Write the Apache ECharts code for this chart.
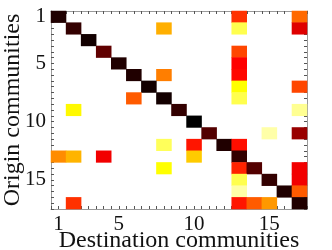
<!DOCTYPE html>
<html><head><meta charset="utf-8">
<script src="https://cdn.jsdelivr.net/npm/echarts@6/dist/echarts.min.js"></script>
<style>html,body{margin:0;padding:0;background:#fff}#c{width:332px;height:250px}</style>
</head><body><div id="c"></div>
<script>
var destinations = ['1','2','3','4','5','6','7','8','9','10','11','12','13','14','15','16','17'];
var origins = ['1','2','3','4','5','6','7','8','9','10','11','12','13','14','15','16','17'];
var tickLabels = ['1','5','10','15'];
// intensity per origin row (0 = no flow), columns are destinations 1..17
var row1  = [0.95,0,0,0,0,0,0,0,0,0,0,0,0.53,0,0,0,0.45];
var row2  = [0,0.92,0,0,0,0,0,0.34,0,0,0,0,0.13,0,0,0,0.65];
var row3  = [0,0,0.97,0,0,0,0,0,0,0,0,0,0,0,0,0,0];
var row4  = [0,0,0,0.85,0,0,0,0,0,0,0,0,0.50,0,0,0,0];
var row5  = [0,0,0,0,0.95,0,0,0,0,0,0,0,0.60,0,0,0,0];
var row6  = [0,0,0,0,0,0.95,0,0.42,0,0,0,0,0.59,0,0,0,0];
var row7  = [0,0,0,0,0,0,0.97,0,0,0,0,0,0.20,0,0,0,0.50];
var row8  = [0,0,0,0,0,0.47,0,0.97,0,0,0,0,0.13,0,0,0,0];
var row9  = [0,0.21,0,0,0,0,0,0,0.92,0,0,0,0,0,0,0,0.07];
var row10 = [0,0,0,0,0,0,0,0,0,1.0,0,0,0,0,0,0,0];
var row11 = [0,0,0,0,0,0,0,0,0,0,0.87,0,0,0,0.05,0,0.76];
var row12 = [0,0,0,0,0,0,0,0.12,0,0.57,0,0.95,0.58,0,0,0,0];
var row13 = [0.40,0.33,0,0.62,0,0,0,0,0,0.29,0,0,0.92,0,0,0,0];
var row14 = [0,0,0,0,0,0,0,0.20,0,0,0,0,0.55,0.87,0,0,0.62];
var row15 = [0,0,0,0,0,0,0,0,0,0,0,0,0.13,0,0.92,0,0.62];
var row16 = [0,0,0,0,0,0,0,0,0,0,0,0,0.05,0,0,0.95,0.47];
var row17 = [0,0.53,0,0,0,0,0,0,0,0,0,0,0.57,0.47,0.38,0,0.95];
var rows = [row1,row2,row3,row4,row5,row6,row7,row8,row9,row10,row11,row12,row13,row14,row15,row16,row17];

var cells = [];
rows.forEach(function(r, i){ r.forEach(function(v, j){ if (v > 0) cells.push([j, i, v]); }); });

var font = 'Liberation Serif';
var gray = '#9a9a9a';
function tickAxis(pos, isY) {
  var a = {type:'value', position:pos, min:0.5, max:17.5, interval:0.5, gridIndex:0,
    axisLine:{show:true, lineStyle:{color:gray, width:1}},
    axisTick:{show:true, inside:true, length:3, lineStyle:{color:'#555'}},
    axisLabel:{show:false}, splitLine:{show:false}, silent:true};
  if (isY) a.inverse = true;
  return a;
}
var chart = echarts.init(document.getElementById('c'), null, {renderer:'canvas'});
chart.setOption({
  animation:false,
  grid:{left:51, top:11, width:256, height:198, containLabel:false, outerBoundsMode:'none'},
  xAxis:[
    {type:'category', data:destinations, position:'bottom',
     axisLine:{show:false}, axisTick:{show:false}, splitLine:{show:false},
     axisLabel:{interval:0, margin:5, fontFamily:font, fontSize:21, color:'#111',
       formatter:function(v){ return tickLabels.indexOf(v) >= 0 ? v : ''; }},
     name:'Destination communities', nameLocation:'middle', nameGap:20, nameMoveOverlap:false,
     nameTextStyle:{fontFamily:font, fontSize:24, color:'#111'}},
    tickAxis('bottom', false), tickAxis('top', false)
  ],
  yAxis:[
    {type:'category', data:origins, inverse:true, position:'left',
     axisLine:{show:false}, axisTick:{show:false}, splitLine:{show:false},
     axisLabel:{interval:0, margin:5, fontFamily:font, fontSize:21, color:'#111',
       formatter:function(v){ return tickLabels.indexOf(v) >= 0 ? v : ''; }},
     name:'Origin communities', nameLocation:'middle', nameGap:26, nameRotate:90, nameMoveOverlap:false,
     nameTextStyle:{fontFamily:font, fontSize:24, color:'#111'}},
    tickAxis('left', true), tickAxis('right', true)
  ],
  visualMap:{show:false, min:0, max:1, dimension:2, seriesIndex:0,
    inRange:{color:['#ffffe0','#ffff00','#ff8c00','#ff0000','#800000','#000000']}},
  series:[{type:'heatmap', xAxisIndex:0, yAxisIndex:0, data:cells,
    itemStyle:{borderWidth:0}}]
});
</script></body></html>
